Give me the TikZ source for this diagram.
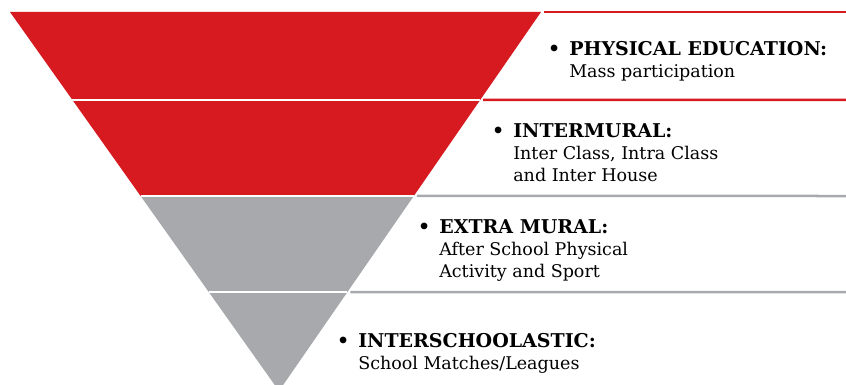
\documentclass[tikz,border=0pt]{standalone}
\usepackage{fontspec}
\setmainfont{DejaVu Serif}
\usepackage{tikz}
\usetikzlibrary{positioning, calc}
\definecolor{pyrred}{RGB}{215,25,32}
\definecolor{pyrgray}{RGB}{167,169,172}
\newcommand{\headfont}{\fontsize{19}{22}\bfseries}

\begin{document}
\begin{tikzpicture}[x=1pt, y=-1pt, semithick]
\tikzstyle{gap}=[draw=white, line width=2pt]
\tikzstyle{rule}=[line width=2.5pt]
\tikzstyle{label}=[anchor=north west, align=left, inner sep=0pt, font=\fontsize{17.5}{22}\selectfont]

\useasboundingbox (0,0) rectangle (846,385);

% outline of the pyramid
\coordinate (TL) at (10,12);
\coordinate (TR) at (541,12);
\coordinate (A)  at (279,391);
\coordinate (L1) at ($(TL)!88/379!(A)$);
\coordinate (R1) at ($(TR)!88/379!(A)$);
\coordinate (L2) at ($(TL)!184/379!(A)$);
\coordinate (R2) at ($(TR)!184/379!(A)$);
\coordinate (L3) at ($(TL)!280/379!(A)$);
\coordinate (R3) at ($(TR)!280/379!(A)$);

\fill[pyrred]  (TL) -- (TR) -- (R2) -- (L2) -- cycle;
\fill[pyrgray] (L2) -- (R2) -- (A) -- cycle;
\path[gap] (L1) -- (R1);
\path[gap] (L2) -- (R2);
\path[gap] (L3) -- (R3);

% rules to the right
\coordinate (E0) at (846,12);
\coordinate (E1) at (846,100);
\coordinate (E2) at (846,196);
\coordinate (E3) at (846,292);
\draw[rule, pyrred]  ($(TR)+(3,0)$) -- (E0);
\draw[rule, pyrred]  ($(R1)+(3,0)$) -- (E1);
\draw[rule, pyrgray] ($(R2)+(3,0)$) -- (E2);
\draw[rule, pyrgray] ($(R3)+(3,0)$) -- (E3);

% labels
\node[label] (PE) at (569,41)
  {{\headfont\llap{\textbullet\hspace{9pt}}PHYSICAL EDUCATION:}\\ Mass participation};
\node[label] (IM) at (513,123)
  {{\headfont\llap{\textbullet\hspace{9pt}}INTERMURAL:}\\ Inter Class, Intra Class\\ and Inter House};
\node[label] (EM) at (439,219)
  {{\headfont\llap{\textbullet\hspace{9pt}}EXTRA MURAL:}\\ After School Physical\\ Activity and Sport};
\node[label] (IS) at (358,333)
  {{\headfont\llap{\textbullet\hspace{9pt}}INTERSCHOOLASTIC:}\\ School Matches/Leagues};

\end{tikzpicture}
\end{document}
